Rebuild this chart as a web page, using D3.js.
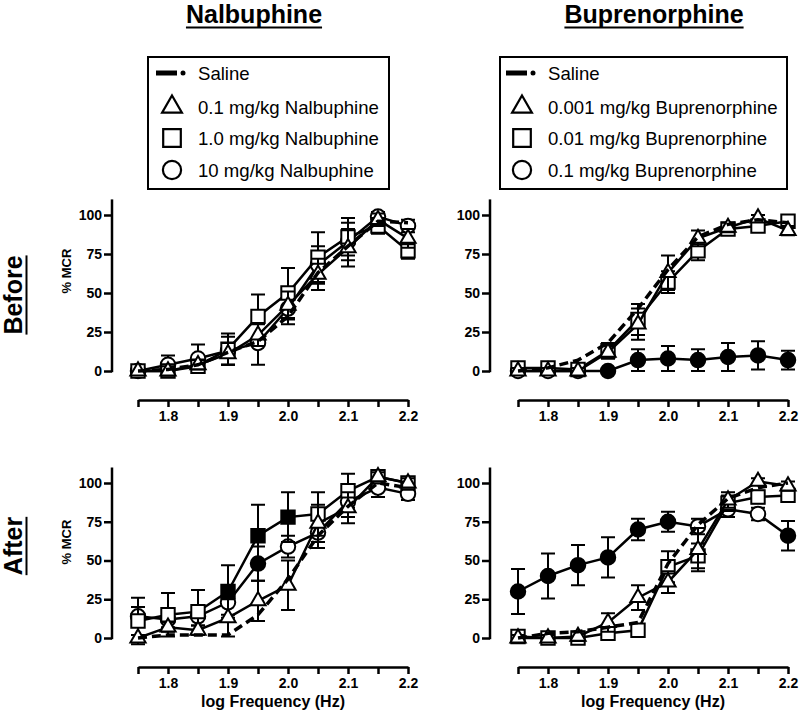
<!DOCTYPE html>
<html><head><meta charset="utf-8">
<script src="https://cdn.jsdelivr.net/npm/d3@7"></script>
<style>
body{margin:0;background:#fff;}
svg{display:block;font-family:"Liberation Sans",Arial,sans-serif;}
</style></head>
<body><svg id="chart" width="800" height="715"></svg>
<script>
// ---------- DATA ----------
const freq = [1.75,1.8,1.85,1.9,1.95,2.0,2.05,2.1,2.15,2.2];
const xTickLabels = ["1.8","1.9","2.0","2.1","2.2"];
const yTicks = [0,25,50,75,100];
const drugTitles = ["Nalbuphine","Buprenorphine"];
const rowTitles = ["Before","After"];
const nalLegend = ["Saline","0.1 mg/kg Nalbuphine","1.0 mg/kg Nalbuphine","10 mg/kg Nalbuphine"];
const bupLegend = ["Saline","0.001 mg/kg Buprenorphine","0.01 mg/kg Buprenorphine","0.1 mg/kg Buprenorphine"];

// Nalbuphine, Before
const nalBeforeSaline = [0,1,4,12,19,35,63,80,96,95];
const nalBeforeLow    = [0,0,4,11,23,42,62,79,97,85];
const nalBeforeLowErr = [0,3,3,7,7,9,10,12,4,6];
const nalBeforeMid    = [0,0,3,14,35,50,73,86,93,77];
const nalBeforeMidErr = [0,3,4,10,14,16,16,12,5,5];
const nalBeforeHigh   = [0,4,8,13,18,40,68,83,99,93];
const nalBeforeHighErr= [0,6,9,9,14,10,12,12,3,4];
const nalBeforeMidSig = [0,0,0,0,0,0,0,0,0,0];
const nalBeforeHighSig= [0,0,0,0,0,0,0,0,0,0];

// Buprenorphine, Before
const bupBeforeSaline = [0,2,7,18,40,65,86,94,97,95];
const bupBeforeLow    = [0,0,0,12,30,63,85,92,98,90];
const bupBeforeLowErr = [2,2,2,4,10,11,5,3,2,3];
const bupBeforeMid    = [2,2,1,13,33,57,77,91,93,96];
const bupBeforeMidErr = [2,2,2,5,10,7,6,3,3,3];
const bupBeforeHigh   = [0,0,0,0,7,8,7,9,10,7];
const bupBeforeHighErr= [0,0,0,0,7,8,7,9,9,6];
const bupBeforeMidSig = [0,0,0,0,0,0,0,0,0,0];
const bupBeforeHighSig= [0,0,0,1,1,1,1,1,1,1];

// Nalbuphine, After
const nalAfterSaline = [0,2,2,2,15,38,66,85,100,97];
const nalAfterLow    = [0,7,5,13,24,34,74,84,104,100];
const nalAfterLowErr = [2,3,3,12,13,16,12,10,3,3];
const nalAfterMid    = [11,15,17,30,66,78,80,95,104,100];
const nalAfterMidErr = [15,14,14,17,20,16,14,11,3,3];
const nalAfterHigh   = [14,12,14,23,48,59,68,88,97,93];
const nalAfterHighErr= [6,5,6,8,11,7,10,10,6,4];
const nalAfterMidSig = [0,0,0,1,1,1,0,0,0,0];
const nalAfterHighSig= [0,0,0,0,1,0,0,0,0,0];

// Buprenorphine, After
const bupAfterSaline = [0,3,4,7,10,48,73,90,97,100];
const bupAfterLow    = [0,0,1,10,26,36,57,89,101,98];
const bupAfterLowErr = [2,2,3,6,8,7,14,5,2,3];
const bupAfterMid    = [1,0,0,3,5,46,53,87,91,92];
const bupAfterMidErr = [2,2,2,2,2,10,8,5,4,3];
const bupAfterHigh   = [30,40,47,52,70,75,72,83,80,66];
const bupAfterHighErr= [14.5,14.5,13,13,7,6.5,5,5,4,9.5];
const bupAfterMidSig = [0,0,0,0,0,0,0,0,0,0];
const bupAfterHighSig= [1,1,1,1,1,1,0,0,0,1];

// ---------- LAYOUT ----------
const svg = d3.select("#chart");
const colLayout = [{axisX:112, x0:138, x1:408, cx:254},{axisX:490, x0:518, x1:788, cx:654}];
const rowLayout = [{y0:371, y100:215, axisY:400},{y0:638, y100:483, axisY:667}];

const panels = [
  {col:0,row:0,saline:nalBeforeSaline,low:nalBeforeLow,lowErr:nalBeforeLowErr,mid:nalBeforeMid,midErr:nalBeforeMidErr,midSig:nalBeforeMidSig,high:nalBeforeHigh,highErr:nalBeforeHighErr,highSig:nalBeforeHighSig},
  {col:1,row:0,saline:bupBeforeSaline,low:bupBeforeLow,lowErr:bupBeforeLowErr,mid:bupBeforeMid,midErr:bupBeforeMidErr,midSig:bupBeforeMidSig,high:bupBeforeHigh,highErr:bupBeforeHighErr,highSig:bupBeforeHighSig},
  {col:0,row:1,saline:nalAfterSaline,low:nalAfterLow,lowErr:nalAfterLowErr,mid:nalAfterMid,midErr:nalAfterMidErr,midSig:nalAfterMidSig,high:nalAfterHigh,highErr:nalAfterHighErr,highSig:nalAfterHighSig},
  {col:1,row:1,saline:bupAfterSaline,low:bupAfterLow,lowErr:bupAfterLowErr,mid:bupAfterMid,midErr:bupAfterMidErr,midSig:bupAfterMidSig,high:bupAfterHigh,highErr:bupAfterHighErr,highSig:bupAfterHighSig}
];

const symTri = d3.symbol().type(d3.symbolTriangle).size(100);
const symSq = d3.symbol().type(d3.symbolSquare).size(180);
const symCirc = d3.symbol().type(d3.symbolCircle).size(165);
const DASH = "9,5";

panels.forEach(p => {
  const C = colLayout[p.col], R = rowLayout[p.row];
  const x = d3.scaleLinear().domain([1.75,2.2]).range([C.x0,C.x1]);
  const pxPer = (R.y0 - R.y100)/100;
  const y = d3.scaleLinear().domain([0,110]).range([R.y0, R.y0 - pxPer*110]);
  const g = svg.append("g");

  // Y axis
  const ya = g.append("g").attr("transform",`translate(${C.axisX},0)`)
    .call(d3.axisLeft(y).tickValues(yTicks).tickSize(8).tickSizeOuter(0).tickPadding(2));
  ya.select(".domain").attr("stroke-width",2.5).attr("d",`M0,${y(110)}V${y(0)+1.2}`);
  ya.selectAll(".tick line").attr("stroke-width",2.5);
  ya.selectAll(".tick text").attr("font-size",14).attr("font-weight","bold").attr("fill","#000")
    .attr("font-family","Liberation Sans, Arial, sans-serif");

  // X axis
  const xa = g.append("g").attr("transform",`translate(0,${R.axisY})`)
    .call(d3.axisBottom(x).tickValues(freq).tickSize(7).tickSizeOuter(0).tickPadding(4)
      .tickFormat(d => { const s = d3.format(".1f")(d); return (xTickLabels.includes(s) && Math.round(d*100)%10===0) ? s : ""; }));
  xa.select(".domain").attr("stroke-width",2.5);
  xa.selectAll(".tick line").attr("stroke-width",2.5);
  xa.selectAll(".tick text").attr("font-size",14).attr("font-weight","bold").attr("fill","#000")
    .attr("font-family","Liberation Sans, Arial, sans-serif");

  if (p.row === 1) {
    g.append("text").attr("x",(C.x0+C.x1)/2).attr("y",707).attr("text-anchor","middle")
      .attr("font-size",16).attr("font-weight","bold").text("log Frequency (Hz)");
  }

  const line = d3.line().x((d,i)=>x(freq[i])).y(d=>y(d));

  const series = [
    {vals:p.high, err:p.highErr, sig:p.highSig, sym:symCirc},
    {vals:p.mid, err:p.midErr, sig:p.midSig, sym:symSq},
    {vals:p.low, err:p.lowErr, sig:null, sym:symTri}
  ];
  series.forEach(s => {
    const sg = g.append("g");
    s.vals.forEach((v,i) => {
      const e = s.err[i];
      if (e <= 0) return;
      const cx = x(freq[i]);
      sg.append("path").attr("fill","none").attr("stroke","#000").attr("stroke-width",2)
        .attr("d",`M${cx},${y(v-e)}V${y(v+e)}M${cx-7},${y(v+e)}H${cx+7}M${cx-7},${y(v-e)}H${cx+7}`);
    });
    sg.append("path").datum(s.vals).attr("fill","none").attr("stroke","#000")
      .attr("stroke-width",2.5).attr("d",line);
    s.vals.forEach((v,i) => {
      const filled = s.sig && s.sig[i];
      sg.append("path").attr("d",s.sym())
        .attr("transform",`translate(${x(freq[i])},${y(v)})`)
        .attr("fill",filled ? "#000" : "#fff").attr("stroke","#000").attr("stroke-width",2);
    });
  });
  g.append("path").datum(p.saline).attr("fill","none").attr("stroke","#000")
    .attr("stroke-width",3.5).attr("stroke-dasharray",DASH).attr("d",line);
});

// Titles
drugTitles.forEach((t,i) => {
  const tx = svg.append("text").attr("x",colLayout[i].cx).attr("y",23).attr("text-anchor","middle")
    .attr("font-size",25).attr("font-weight","bold").text(t);
  const w = tx.node().getComputedTextLength();
  svg.append("line").attr("x1",colLayout[i].cx-w/2).attr("x2",colLayout[i].cx+w/2)
    .attr("y1",27.5).attr("y2",27.5).attr("stroke","#000").attr("stroke-width",2);
});

// Row titles
const rowCenters = [295, 546];
rowTitles.forEach((t,i) => {
  const g = svg.append("g").attr("transform",`translate(22,${rowCenters[i]}) rotate(-90)`);
  const tx = g.append("text").attr("x",0).attr("y",0).attr("text-anchor","middle")
    .attr("font-size",25).attr("font-weight","bold").text(t);
  const w = tx.node().getComputedTextLength();
  g.append("line").attr("x1",-w/2).attr("x2",w/2).attr("y1",4.5).attr("y2",4.5)
    .attr("stroke","#000").attr("stroke-width",2);
  svg.append("text").attr("transform",`translate(71,${[271,542][i]}) rotate(-90)`)
    .attr("text-anchor","middle").attr("font-size",13).attr("font-weight","bold").text("% MCR");
});

// Legends
const legends = [
  {labels:nalLegend, x:148, w:241, sx:172, tx:198},
  {labels:bupLegend, x:500, w:287, sx:522, tx:548}
];
const legRows = [73,107,138,170];
const legSyms = [null, d3.symbol().type(d3.symbolTriangle).size(170), d3.symbol().type(d3.symbolSquare).size(310), d3.symbol().type(d3.symbolCircle).size(260)];
legends.forEach(L => {
  svg.append("rect").attr("x",L.x).attr("y",57).attr("width",L.w).attr("height",132)
    .attr("fill","none").attr("stroke","#000").attr("stroke-width",2);
  L.labels.forEach((lab,i) => {
    const yy = legRows[i];
    if (i === 0) {
      svg.append("line").attr("x1",L.sx-16).attr("x2",L.sx+5).attr("y1",yy).attr("y2",yy)
        .attr("stroke","#000").attr("stroke-width",5);
      svg.append("circle").attr("cx",L.sx+11).attr("cy",yy).attr("r",2.5).attr("fill","#000");
    } else {
      svg.append("path").attr("d",legSyms[i]()).attr("transform",`translate(${L.sx},${yy})`)
        .attr("fill","#fff").attr("stroke","#000").attr("stroke-width",2.2);
    }
    svg.append("text").attr("x",L.tx).attr("y",yy+6.5).attr("font-size",18.6).text(lab);
  });
});
</script></body></html>
